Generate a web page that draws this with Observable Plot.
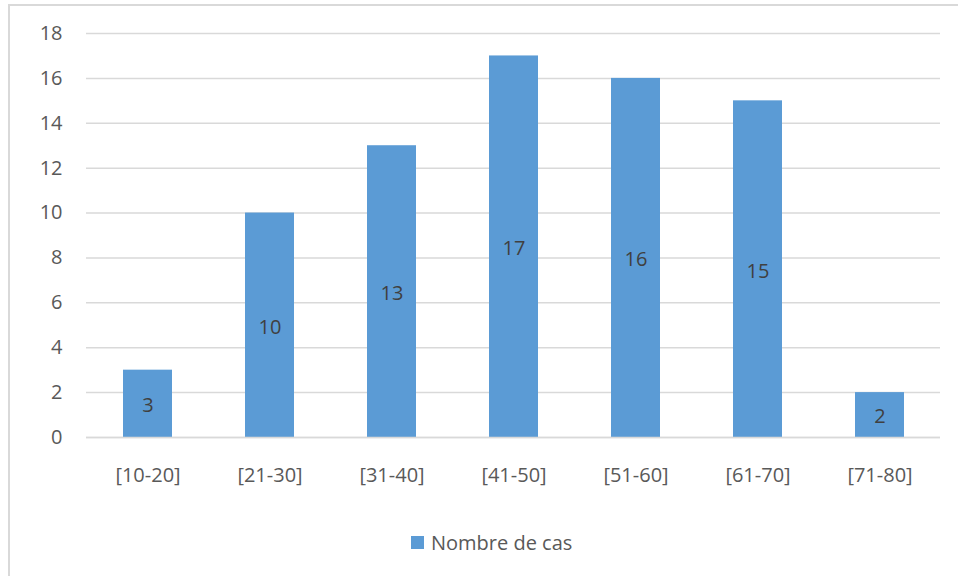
<!DOCTYPE html>
<html>
<head>
<meta charset="utf-8">
<script src="https://cdn.jsdelivr.net/npm/d3@7"></script>
<script src="https://cdn.jsdelivr.net/npm/@observablehq/plot@0.6"></script>
<style>
  html, body { margin: 0; padding: 0; background: #fff; width: 958px; height: 576px; overflow: hidden; }
  #frame { position: absolute; left: 8px; top: 4px; width: 1200px; height: 1200px;
           border-top: 2px solid #d9d9d9; border-left: 2px solid #d9d9d9; box-sizing: border-box; }
  #chart { position: absolute; left: 0; top: 0; }
  #legend { position: absolute; left: 411px; top: 529px; font-family: "Open Sans", sans-serif;
            font-size: 20px; color: #595959; display: flex; align-items: center; }
  #legend .sw { width: 13px; height: 13px; background: #5B9BD5; margin-right: 7px; }
</style>
</head>
<body>
<div id="frame"></div>
<div id="chart"></div>
<div id="legend"><span class="sw"></span><span>Nombre de cas</span></div>
<script>
const categories = ["[10-20]", "[21-30]", "[31-40]", "[41-50]", "[51-60]", "[61-70]", "[71-80]"];
const values = [3, 10, 13, 17, 16, 15, 2];
const yTicks = [0, 2, 4, 6, 8, 10, 12, 14, 16, 18];
const seriesName = "Nombre de cas";

const data = categories.map((c, i) => ({cat: c, value: values[i]}));

const chart = Plot.plot({
  width: 958,
  height: 510,
  marginLeft: 86,
  marginRight: 18,
  marginTop: 33,
  marginBottom: 73,
  style: {fontFamily: "'Open Sans', sans-serif", fontSize: "20px", color: "#595959", background: "transparent"},
  x: {domain: categories, paddingInner: 0.6, paddingOuter: 0.3, label: null},
  y: {domain: [0, 18], ticks: yTicks, label: null},
  marks: [
    Plot.gridY(yTicks, {stroke: "#d9d9d9", strokeOpacity: 1, strokeWidth: 1.5}),
    Plot.barY(data, {x: "cat", y: "value", fill: "#5B9BD5"}),
    Plot.ruleY([0], {stroke: "#d9d9d9", strokeWidth: 1.5}),
    Plot.axisY(yTicks, {tickSize: 0, tickPadding: 24, fill: "#595959", fontSize: 20}),
    Plot.axisX({tickSize: 0, tickPadding: 30, fill: "#595959", fontSize: 20}),
    Plot.text(data, {x: "cat", y: d => d.value / 2, text: d => String(d.value), fill: "#404040", fontSize: 20, dy: 2})
  ]
});
document.getElementById("chart").appendChild(chart);
</script>
</body>
</html>
